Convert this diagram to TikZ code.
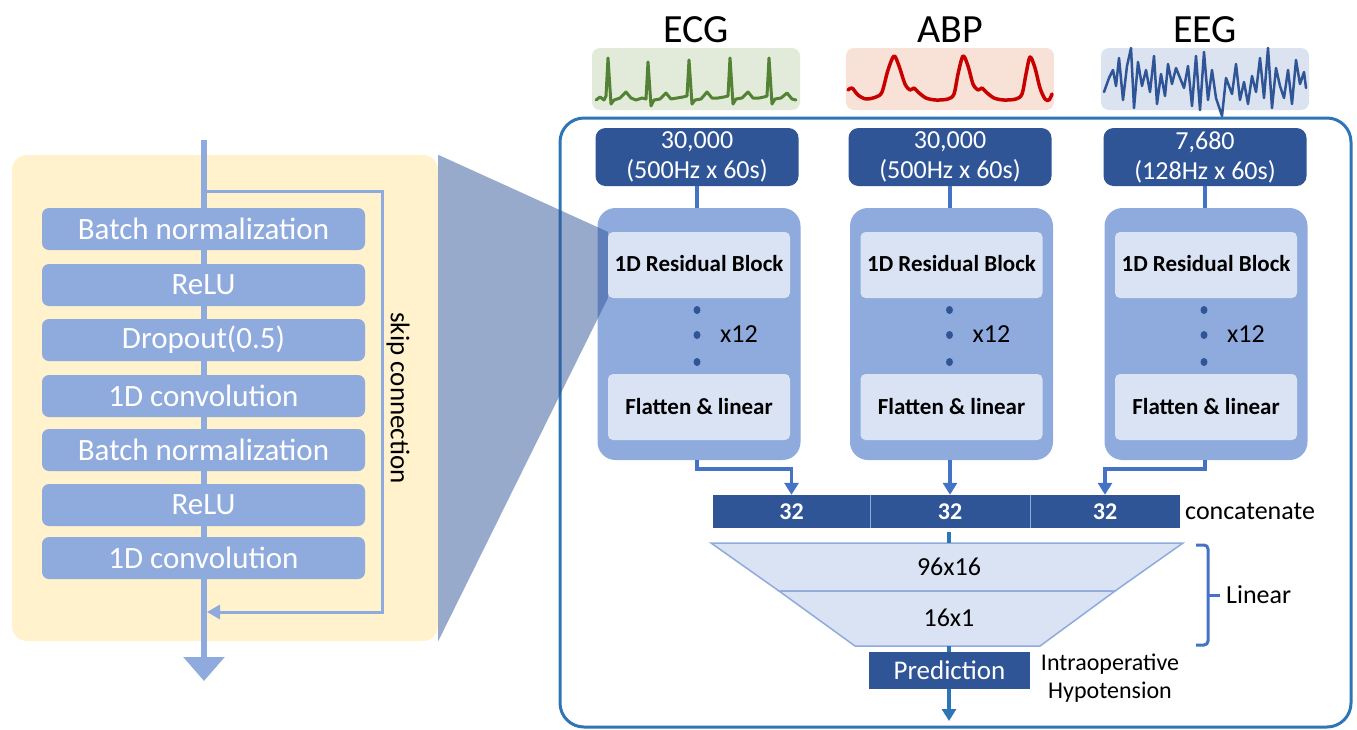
\documentclass[tikz,border=0pt]{standalone}
\usepackage{fontspec}
\setmainfont{Carlito}
\usetikzlibrary{arrows.meta}
\definecolor{lb}{HTML}{8FAADC}
\definecolor{db}{HTML}{2F5597}
\definecolor{pb}{HTML}{DAE3F3}
\definecolor{fb}{HTML}{2E75B6}
\definecolor{cb}{HTML}{4472C4}
\definecolor{yel}{HTML}{FFF2CC}
\definecolor{ecgbg}{HTML}{E2EBDA}
\definecolor{ecgln}{HTML}{548235}
\definecolor{abpbg}{HTML}{F8E1D6}
\definecolor{abpln}{HTML}{C80000}
\definecolor{eegbg}{HTML}{DCE3F0}
\begin{document}
\begin{tikzpicture}[x=1pt,y=-1pt,
  lbox/.style={rectangle, rounded corners=7pt, fill=lb, text=white, minimum width=323pt, minimum height=42pt, inner sep=0pt, font=\fontsize{31}{37}\selectfont},
  inbox/.style={rectangle, rounded corners=10pt, fill=db, text=white, minimum width=203pt, minimum height=58pt, inner sep=0pt, align=center, font=\fontsize{26}{30}\selectfont},
  blk/.style={rectangle, rounded corners=18pt, fill=lb, minimum width=203pt, minimum height=252pt, inner sep=0pt},
  innerbox/.style={rectangle, rounded corners=5pt, fill=pb, minimum width=182pt, minimum height=66pt, inner sep=0pt, font=\bfseries\fontsize{23}{27}\selectfont},
  sigbox/.style={rectangle, rounded corners=8pt, minimum width=208pt, minimum height=62pt, inner sep=0pt},
  sigline/.style={line width=3pt, line join=round, line cap=round},
  lab/.style={font=\fontsize{40}{48}\selectfont},
  txt/.style={font=\fontsize{26}{30}\selectfont, inner sep=0pt},
  conn/.style={draw=cb, line width=3.5pt},
  arr/.style={conn, -{Triangle[width=14pt,length=12pt]}},
  cat/.style={rectangle, fill=db, text=white, minimum height=33pt, inner sep=0pt, font=\bfseries\fontsize{24}{28}\selectfont},
  dotm/.style={fill=db}
]
\useasboundingbox (0,0) rectangle (1357,729);

% ---------------- left panel ----------------
\node[rectangle, fill=yel, rounded corners=15pt, minimum width=426pt, minimum height=486pt, inner sep=0pt] (panel) at (225,398) {};
\coordinate (mtop) at (204,140);
\coordinate (mbot) at (204,681);
\draw[lb, line width=6pt, -{Triangle[width=40pt,length=24pt]}] (mtop) -- (mbot);
\coordinate (sk1) at (204,191);
\coordinate (sk2) at (207,612);
\draw[lb, line width=3pt, -{Triangle[width=14pt,length=13pt]}] (sk1) -- (382,191) -- (382,612) -- (sk2);
\node[lbox] (b1) at (203.5,229) {Batch normalization};
\node[lbox] (b2) at (203.5,285) {ReLU};
\node[lbox] (b3) at (203.5,340) {Dropout(0.5)};
\node[lbox] (b4) at (203.5,396) {1D convolution};
\node[lbox] (b5) at (203.5,450) {Batch normalization};
\node[lbox] (b6) at (203.5,505) {ReLU};
\node[lbox] (b7) at (203.5,558) {1D convolution};
\node[font=\fontsize{27}{32}\selectfont, rotate=-90, inner sep=0pt] (skip) at (398,398) {skip connection};

% ---------------- right frame ----------------
\node[draw=fb, line width=3pt, rounded corners=24pt, minimum width=791pt, minimum height=609pt, inner sep=0pt] (frame) at (955.5,422.5) {};

% signal labels and pictures
\node[lab] (lab1) at (696,30) {ECG};
\node[lab] (lab2) at (950,30) {ABP};
\node[lab] (lab3) at (1205,30) {EEG};
\node[sigbox, fill=ecgbg] (sig1) at (696,79) {};
\node[sigbox, fill=abpbg] (sig2) at (950,79) {};
\node[sigbox, fill=eegbg] (sig3) at (1205,79) {};
\draw[ecgln, sigline] (596,100) -- (600,97) -- (604,100) -- (606,96) -- (608,58) -- (611,104) -- (614,100) -- (620,98) -- (626,92) -- (631,98) -- (636,100) -- (642,98) -- (646,99) -- (648,62) -- (651,106) -- (654,100) -- (660,99) -- (666,93) -- (671,99) -- (677,98) -- (683,97) -- (687,96) -- (689,60) -- (692,104) -- (695,100) -- (701,99) -- (707,92) -- (712,98) -- (718,98) -- (724,97) -- (728,96) -- (730,58) -- (733,104) -- (736,99) -- (742,98) -- (748,92) -- (753,98) -- (759,98) -- (764,97) -- (767,96) -- (769,58) -- (772,104) -- (775,99) -- (781,98) -- (787,93) -- (792,99) -- (796,100);
\draw[abpln, sigline, line width=3.5pt] plot[smooth, tension=0.5] coordinates {(848,90) (852,88) (858,95) (866,99) (876,97) (882,92) (888,70) (894,56) (899,66) (905,84) (910,90) (914,88) (918,92) (926,98) (936,100) (948,99) (954,94) (958,74) (963,56) (968,66) (973,84) (978,90) (982,88) (986,92) (994,98) (1004,100) (1016,99) (1022,94) (1026,74) (1030,57) (1035,68) (1040,88) (1045,99) (1049,100) (1052,94)};
\draw[db, sigline, line width=2.5pt] (1104,92) -- (1109,78) -- (1113,70) -- (1116,86) -- (1119,58) -- (1123,100) -- (1127,66) -- (1131,48) -- (1134,108) -- (1138,62) -- (1142,86) -- (1146,70) -- (1150,92) -- (1154,56) -- (1157,104) -- (1161,74) -- (1165,96) -- (1168,64) -- (1172,84) -- (1176,68) -- (1180,78) -- (1184,88) -- (1188,66) -- (1192,106) -- (1196,56) -- (1200,110) -- (1204,52) -- (1208,100) -- (1212,70) -- (1216,98) -- (1222,116) -- (1226,78) -- (1232,94) -- (1236,64) -- (1240,100) -- (1244,82) -- (1248,104) -- (1252,76) -- (1256,92) -- (1260,58) -- (1264,98) -- (1268,48) -- (1272,108) -- (1276,68) -- (1280,86) -- (1284,98) -- (1288,70) -- (1292,104) -- (1296,60) -- (1300,84) -- (1304,72) -- (1306,88);

% input boxes
\node[inbox] (in1) at (697,157) {30,000\\(500Hz x 60s)};
\node[inbox] (in2) at (950,157) {30,000\\(500Hz x 60s)};
\node[inbox] (in3) at (1205,157) {7,680\\(128Hz x 60s)};

% blocks
\foreach \i/\cx in {1/699,2/951.5,3/1206}{
  \node[blk] (blk\i) at (\cx,334) {};
  \node[innerbox] (r\i) at (\cx,265) {\raisebox{4pt}{1D Residual Block}};
  \node[innerbox] (f\i) at (\cx,407) {Flatten \& linear};
  \fill[dotm] (\cx-2,310) ellipse (3.5pt and 4pt);
  \fill[dotm] (\cx-2,335) ellipse (3.5pt and 4pt);
  \fill[dotm] (\cx-2,362) ellipse (3.5pt and 4pt);
  \node[txt] (x\i) at (\cx+40,334) {x12};
}
\draw[conn] (in1.south) -- (in1.south |- blk1.north);
\draw[conn] (in2.south) -- (in2.south |- blk2.north);
\draw[conn] (in3.south) -- (in3.south |- blk3.north);

% concatenate
\node[cat, minimum width=157pt] (c1) at (791.5,511.5) {32};
\node[cat, minimum width=160pt] (c2) at (950,511.5) {32};
\node[cat, minimum width=150pt] (c3) at (1105,511.5) {32};
\draw[lb, line width=1pt] (c1.north east) -- (c1.south east);
\draw[lb, line width=1pt] (c2.north east) -- (c2.south east);
\node[txt, anchor=west] (cattxt) at (1185,511) {concatenate};
\draw[arr] (in1.south |- blk1.south) -- ++(0,9) -| (c1.north);
\draw[arr] (c2.north |- blk2.south) -- (c2.north);
\draw[arr] (in3.south |- blk3.south) -- ++(0,9) -| (c3.north);

% linear trapezoids
\coordinate (tl) at (711,543);
\coordinate (tr) at (1183,543);
\coordinate (ml) at (779,591);
\coordinate (mr) at (1115,591);
\coordinate (bl) at (855,646);
\coordinate (br) at (1040,646);
\coordinate (tt) at (949,543);
\coordinate (bm) at (949,646);
\filldraw[fill=pb, draw=lb, line width=1.5pt] (tl) -- (tr) -- (mr) -- (ml) -- cycle;
\filldraw[fill=pb, draw=lb, line width=1.5pt] (ml) -- (mr) -- (br) -- (bl) -- cycle;
\node[txt] (l1) at (949,567) {96x16};
\node[txt] (l2) at (949,618) {16x1};
\draw[fb, line width=3.5pt, shorten <=4pt] (tt |- c2.south) -- (tt);

% brace
\draw[cb, line width=3pt, rounded corners=4pt] (1196,545) -- (1208,545) -- (1208,645) -- (1196,645);
\draw[cb, line width=3pt] (1208,595) -- (1220,595);
\node[txt, anchor=west] (lin) at (1226,595) {Linear};

% prediction
\node[rectangle, fill=db, text=white, minimum width=161pt, minimum height=37pt, inner sep=0pt, font=\fontsize{27}{32}\selectfont] (pred) at (949.5,670.5) {Prediction};
\draw[fb, line width=3.5pt] (bm) -- (bm |- pred.north);
\coordinate (out) at (949,721);
\draw[fb, line width=3.5pt, -{Triangle[width=14pt,length=12pt]}] (out |- pred.south) -- (out);
\node[font=\fontsize{24}{28}\selectfont, align=center, inner sep=0pt] (ih) at (1110,678) {Intraoperative\\Hypotension};

% zoom overlay
\fill[db, fill opacity=0.5] (panel.north east) -- (r1.north west) -- (r1.south west) -- (panel.south east) -- cycle;
\end{tikzpicture}
\end{document}
